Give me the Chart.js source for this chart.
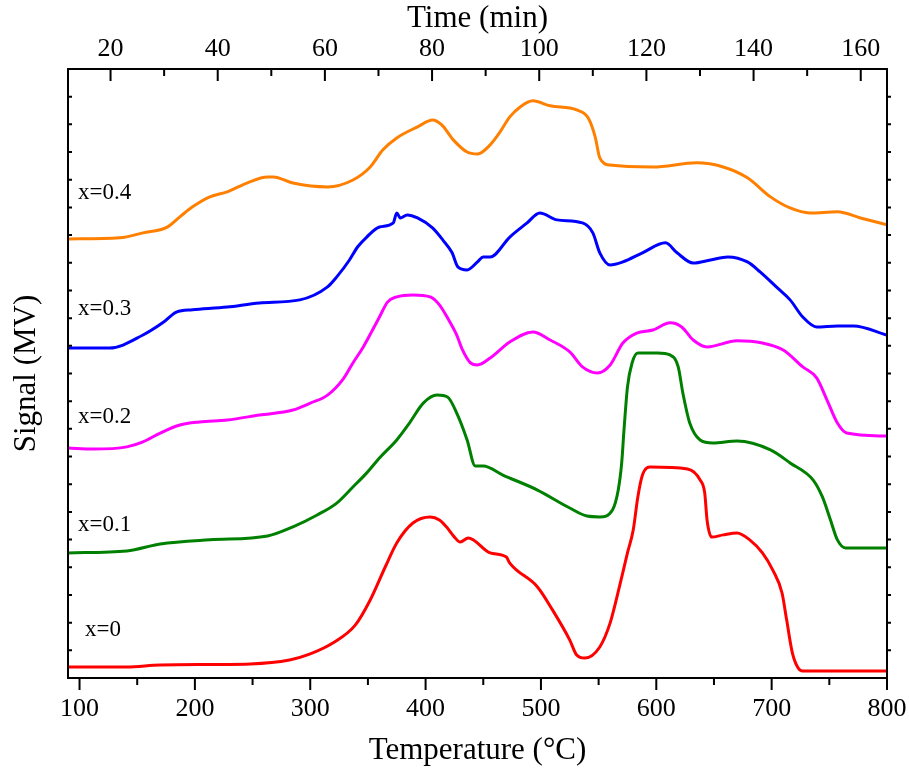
<!DOCTYPE html>
<html>
<head>
<meta charset="utf-8">
<script src="https://cdn.jsdelivr.net/npm/chart.js@4/dist/chart.umd.min.js"></script>
<style>
  html, body { margin: 0; padding: 0; background: #fff; }
  #wrap { width: 909px; height: 772px; }
</style>
</head>
<body>
<div id="wrap"><canvas id="dscChart" width="909" height="772"></canvas></div>
<script>
// axis ticks
const tempTicks = [100, 200, 300, 400, 500, 600, 700, 800];
const timeTicks = [20, 40, 60, 80, 100, 120, 140, 160];
const timeMin = 12.06;
const timeMax = 164.9;

// series names + where their labels sit (temperature, signal)
const seriesNames = ["x=0", "x=0.1", "x=0.2", "x=0.3", "x=0.4"];
const labelTemp = [104.7, 98.7, 98.7, 98.7, 98.7];
const labelSignal = [1.73, 5.53, 9.43, 13.33, 17.52];

// x=0
const temp0 = [90, 141, 170, 248, 282, 300, 321, 339, 352, 365, 375, 389, 404, 412, 418, 425, 430, 437, 456, 470, 473, 497, 510, 525, 531, 538, 551, 560, 568, 575, 580, 584, 588, 595, 627, 638, 642, 644, 648, 658, 670, 681, 692, 701, 709, 713, 718, 723, 727, 800];
const signal0 = [0.40, 0.40, 0.47, 0.51, 0.65, 0.87, 1.30, 1.91, 2.82, 4.01, 4.88, 5.60, 5.82, 5.71, 5.46, 5.09, 4.91, 5.06, 4.52, 4.37, 4.15, 3.29, 2.46, 1.37, 0.83, 0.72, 1.12, 1.99, 3.29, 4.52, 5.35, 6.54, 7.33, 7.62, 7.55, 7.15, 6.68, 5.71, 5.09, 5.17, 5.24, 4.99, 4.52, 3.90, 3.07, 2.10, 0.90, 0.36, 0.25, 0.25];

// x=0.1
const temp1 = [90, 141, 170, 213, 263, 285, 306, 323, 337, 349, 360, 375, 386, 398, 410, 419, 427, 436, 443, 450, 467, 497, 525, 540, 551, 562, 567, 570, 572, 575, 579, 584, 601, 612, 619, 623, 629, 638, 649, 670, 699, 716, 736, 744, 751, 757, 764, 800];
const signal1 = [4.52, 4.59, 4.84, 4.99, 5.13, 5.46, 5.89, 6.32, 6.90, 7.41, 7.95, 8.60, 9.21, 9.93, 10.22, 10.15, 9.57, 8.60, 7.66, 7.66, 7.33, 6.79, 6.14, 5.85, 5.82, 6.07, 6.79, 7.77, 8.96, 10.51, 11.38, 11.74, 11.74, 11.67, 11.24, 10.30, 9.21, 8.60, 8.49, 8.56, 8.24, 7.77, 7.15, 6.54, 5.71, 4.99, 4.70, 4.70];

// x=0.2
const temp2 = [90, 112, 141, 155, 170, 187, 204, 228, 256, 285, 300, 315, 328, 337, 346, 354, 360, 367, 375, 389, 404, 412, 419, 427, 432, 439, 445, 456, 473, 493, 508, 525, 536, 549, 560, 571, 583, 597, 612, 622, 632, 644, 670, 692, 710, 727, 739, 748, 757, 765, 800];
const signal2 = [8.31, 8.27, 8.35, 8.53, 8.85, 9.14, 9.25, 9.32, 9.50, 9.68, 9.93, 10.22, 10.77, 11.38, 11.96, 12.57, 13.04, 13.58, 13.77, 13.84, 13.77, 13.48, 13.01, 12.39, 11.85, 11.38, 11.31, 11.56, 12.14, 12.50, 12.21, 11.78, 11.24, 11.02, 11.31, 12.10, 12.46, 12.57, 12.83, 12.68, 12.21, 11.96, 12.18, 12.10, 11.85, 11.24, 10.84, 10.04, 9.21, 8.85, 8.74];

// x=0.3
const temp3 = [90, 126, 155, 172, 184, 198, 228, 256, 291, 315, 323, 334, 341, 349, 360, 372, 375, 378, 384, 393, 406, 415, 423, 428, 436, 445, 450, 456, 473, 488, 499, 514, 536, 545, 551, 560, 571, 588, 608, 618, 632, 647, 662, 679, 690, 705, 716, 727, 739, 757, 771, 800];
const signal3 = [11.92, 11.92, 12.39, 12.83, 13.22, 13.30, 13.40, 13.55, 13.66, 14.13, 14.49, 15.10, 15.57, 15.93, 16.29, 16.44, 16.80, 16.62, 16.73, 16.62, 16.26, 15.82, 15.36, 14.85, 14.74, 15.03, 15.21, 15.21, 15.93, 16.44, 16.80, 16.55, 16.44, 16.08, 15.36, 14.92, 15.03, 15.36, 15.72, 15.36, 14.99, 15.10, 15.21, 15.03, 14.67, 14.09, 13.66, 13.04, 12.68, 12.72, 12.72, 12.39];

// x=0.4
const temp4 = [90, 135, 155, 176, 187, 198, 213, 228, 245, 263, 268, 285, 315, 337, 352, 363, 375, 393, 406, 414, 424, 436, 445, 456, 464, 473, 482, 493, 508, 531, 541, 547, 551, 560, 597, 635, 658, 679, 699, 716, 733, 757, 777, 800];
const signal4 = [15.86, 15.90, 16.08, 16.29, 16.66, 17.02, 17.38, 17.56, 17.88, 18.10, 18.10, 17.88, 17.74, 17.99, 18.46, 19.08, 19.51, 19.91, 20.16, 19.98, 19.44, 19.00, 18.93, 19.26, 19.69, 20.27, 20.63, 20.85, 20.67, 20.52, 20.23, 19.55, 18.79, 18.53, 18.46, 18.61, 18.46, 18.07, 17.38, 16.98, 16.80, 16.84, 16.62, 16.37];

const colors = ['#ff0000', '#008000', '#ff00ff', '#0000ff', '#ff8000'];
const temps = [temp0, temp1, temp2, temp3, temp4];
const signals = [signal0, signal1, signal2, signal3, signal4];

Chart.defaults.font.family = '"Liberation Serif", "Times New Roman", serif';
Chart.defaults.color = '#000';

function toPoints(xs, ys) {
  return xs.map((x, i) => ({ x: x, y: ys[i] }));
}

// fixed box size, no label overhang padding
function fixHeight(h) {
  return s => { s.height = h; s.paddingLeft = 0; s.paddingRight = 0; };
}

// frame, inward/outward tick marks and the x=... labels
const frameTicks = {
  id: 'frameTicks',
  afterDraw(chart) {
    const { ctx, chartArea: a, scales } = chart;
    ctx.save();
    ctx.strokeStyle = '#000';
    ctx.lineWidth = 2;
    ctx.strokeRect(a.left, a.top, a.right - a.left, a.bottom - a.top);

    ctx.beginPath();
    for (let t = 100; t <= 800; t += 50) {
      const x = scales.x.getPixelForValue(t);
      const len = t % 100 === 0 ? 12 : 7;
      ctx.moveTo(x, a.bottom);
      ctx.lineTo(x, a.bottom + len);
    }
    for (let m = 20; m <= timeMax; m += 10) {
      const x = scales.x2.getPixelForValue(m);
      const len = m % 20 === 0 ? 12 : 7;
      ctx.moveTo(x, a.top);
      ctx.lineTo(x, a.top + len);
    }
    for (let v = 1; v < 22; v++) {
      const y = scales.y.getPixelForValue(v);
      ctx.moveTo(a.left, y);
      ctx.lineTo(a.left + 4, y);
      ctx.moveTo(a.right, y);
      ctx.lineTo(a.right + 4, y);
    }
    ctx.stroke();

    ctx.fillStyle = '#000';
    ctx.font = '23px "Liberation Serif"';
    ctx.textAlign = 'left';
    ctx.textBaseline = 'middle';
    seriesNames.forEach((name, i) => {
      ctx.fillText(name, scales.x.getPixelForValue(labelTemp[i]), scales.y.getPixelForValue(labelSignal[i]));
    });
    ctx.restore();
  }
};

new Chart(document.getElementById('dscChart'), {
  type: 'line',
  data: {
    datasets: seriesNames.map((name, i) => ({
      label: name,
      data: toPoints(temps[i], signals[i]),
      borderColor: colors[i],
      borderWidth: 3,
      pointRadius: 0,
      fill: false,
      cubicInterpolationMode: 'monotone'
    }))
  },
  options: {
    responsive: false,
    animation: false,
    layout: { padding: { left: 0, right: 22, top: 0, bottom: 0 } },
    plugins: { legend: { display: false }, tooltip: { enabled: false } },
    scales: {
      x: {
        type: 'linear',
        position: 'bottom',
        min: 90,
        max: 800,
        afterBuildTicks: s => { s.ticks = tempTicks.map(v => ({ value: v })); },
        afterFit: fixHeight(94),
        grid: { display: false, drawTicks: false },
        border: { display: false },
        ticks: { font: { size: 26 }, padding: 16, maxRotation: 0 },
        title: { display: true, text: 'Temperature (°C)', font: { size: 31 }, padding: { top: 0, bottom: 3 } }
      },
      x2: {
        type: 'linear',
        position: 'top',
        min: timeMin,
        max: timeMax,
        afterBuildTicks: s => { s.ticks = timeTicks.map(v => ({ value: v })); },
        afterFit: fixHeight(69),
        grid: { display: false, drawTicks: false },
        border: { display: false },
        ticks: { font: { size: 26 }, padding: 4, maxRotation: 0 },
        title: { display: true, text: 'Time (min)', font: { size: 31 }, padding: { top: 0, bottom: 0 } }
      },
      y: {
        type: 'linear',
        min: 0,
        max: 22,
        afterFit: s => { s.width = 68; },
        grid: { display: false, drawTicks: false },
        border: { display: false },
        ticks: { display: false },
        title: { display: true, text: 'Signal (MV)', font: { size: 31 }, padding: { top: 8, bottom: 0 } }
      }
    }
  },
  plugins: [frameTicks]
});
</script>
</body>
</html>
